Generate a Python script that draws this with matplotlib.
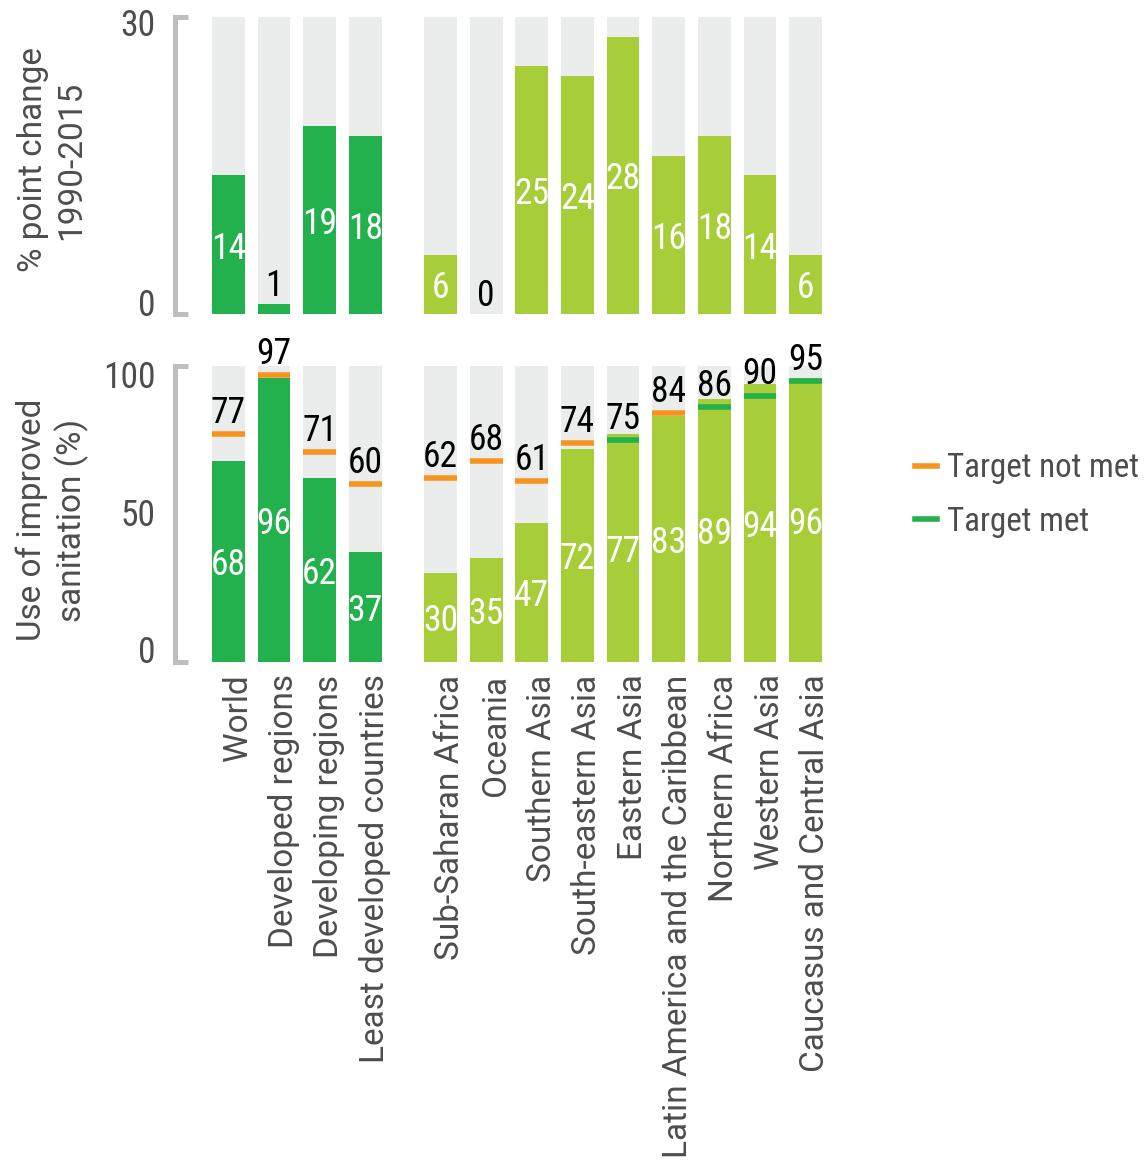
import numpy as np
import matplotlib
matplotlib.use('Agg')
import matplotlib.pyplot as plt
from matplotlib import font_manager
from matplotlib.font_manager import FontProperties
from matplotlib.lines import Line2D
from matplotlib.textpath import TextPath
from matplotlib.transforms import ScaledTranslation

regions = ['World', 'Developed regions', 'Developing regions', 'Least developed countries',
           'Sub-Saharan Africa', 'Oceania', 'Southern Asia', 'South-eastern Asia',
           'Eastern Asia', 'Latin America and the Caribbean', 'Northern Africa',
           'Western Asia', 'Caucasus and Central Asia']
is_aggregate = [True, True, True, True, False, False, False, False, False, False, False, False, False]
change_1990_2015 = [14, 1, 19, 18, 6, 0, 25, 24, 28, 16, 18, 14, 6]
use_2015 = [68, 96, 62, 37, 30, 35, 47, 72, 77, 83, 89, 94, 96]
mdg_target = [77, 97, 71, 60, 62, 68, 61, 74, 75, 84, 86, 90, 95]
legend_labels = ['Target not met', 'Target met']

DARK = '#22B14C'
LIGHT = '#A7CE39'
BACK = '#EBEDED'
ORANGE = '#F7941D'
BRACKET = '#BCBEC0'
TXT = '#4D4D4D'


def narrow_font():
    # look for the narrowest regular sans face that is installed
    best, best_rank = None, 99
    for f in font_manager.fontManager.ttflist:
        if f.style != 'normal':
            continue
        w = f.weight if isinstance(f.weight, int) else {'normal': 400, 'regular': 400, 'book': 400}.get(str(f.weight).lower(), 0)
        if w != 400:
            continue
        nm, st, fn = f.name.lower(), str(f.stretch).lower(), f.fname.lower()
        if 'roboto condensed' in nm:
            rank = 0
        elif 'extra' in st or 'extracondensed' in fn:
            rank = 1
        elif 'semi' in st or 'semicondensed' in fn:
            rank = 5
        elif 'condensed' in st or 'condensed' in fn:
            rank = 2 if 'dejavu' not in nm else 4
        elif 'narrow' in nm:
            rank = 3
        else:
            continue
        if rank < best_rank:
            best, best_rank = f.fname, rank
    if best is None:
        return FontProperties(family='DejaVu Sans', stretch='condensed')
    return FontProperties(fname=best)


def text_ext(fp, s):
    return TextPath((0, 0), s, size=1, prop=fp).get_extents()


num_fp = narrow_font()
ext88 = text_ext(num_fp, '88')
nsize = min(31 * 0.72 / ext88.width, 28 * 0.72 / ext88.height)
num_fp.set_size(nsize)
leg_fp = num_fp.copy()
leg_fp.set_size(190 * 0.72 / text_ext(leg_fp, legend_labels[0]).width)
names = {f.name for f in font_manager.fontManager.ttflist}
WORD = 'Roboto' if 'Roboto' in names else 'DejaVu Sans'

# group gap between aggregates and regions
x = np.array([i if agg else i + 0.65 for i, agg in enumerate(is_aggregate)])
colors = [DARK if agg else LIGHT for agg in is_aggregate]
W = 0.72

W_PX, H_PX = 1148, 1164
fig = plt.figure(figsize=(W_PX / 100, H_PX / 100), dpi=100)
ax_top = fig.add_axes([175 / W_PX, 1 - 314 / H_PX, 647 / W_PX, 297 / H_PX])
ax_bot = fig.add_axes([175 / W_PX, 1 - 662 / H_PX, 647 / W_PX, 296 / H_PX])


def style(ax, ymax, ticks, nudges):
    ax.set_xlim(-1.17, 13.01)
    ax.set_ylim(0, ymax)
    for s in ['top', 'right', 'bottom']:
        ax.spines[s].set_visible(False)
    ax.spines['left'].set_color(BRACKET)
    ax.spines['left'].set_linewidth(3.6)
    ax.set_yticks(ticks)
    ax.set_yticklabels([str(t) for t in ticks], color=TXT, fontproperties=num_fp)
    ax.tick_params(axis='y', direction='in', length=9, width=3.6, color=BRACKET, pad=14)
    ax.tick_params(axis='x', length=0)
    # end labels sit a little inside the bracket
    for lab, dy in zip(ax.get_yticklabels(), nudges):
        lab.set_transform(lab.get_transform() + ScaledTranslation(0, dy / 100, fig.dpi_scale_trans))


# top panel: change in percentage points
style(ax_top, 30, [0, 30], [12, -5])
ax_top.set_xticks([])
ax_top.bar(x, [30] * len(x), width=W, color=BACK, zorder=1)
ax_top.bar(x, change_1990_2015, width=W, color=colors, zorder=2)
for xi, v in zip(x, change_1990_2015):
    if v >= 3:
        ax_top.annotate(str(v), (xi, v / 2), xytext=(0, -10), textcoords='offset points',
                        ha='center', va='baseline', color='white', fontproperties=num_fp)
    else:
        ax_top.annotate(str(v), (xi, v), xytext=(0, 6), textcoords='offset points',
                        ha='center', va='baseline', color='black', fontproperties=num_fp)

# bottom panel: coverage 2015 with target marks
style(ax_bot, 100, [0, 50, 100], [13, 2, -8])
ax_bot.yaxis.get_major_ticks()[1].tick1line.set_visible(False)
ax_bot.bar(x, [100] * len(x), width=W, color=BACK, zorder=1)
ax_bot.bar(x, use_2015, width=W, color=colors, zorder=2)
met = [u >= t for u, t in zip(use_2015, mdg_target)]
ax_bot.hlines(mdg_target, x - W / 2, x + W / 2, colors=[DARK if m else ORANGE for m in met],
              linewidth=4, zorder=3)
for xi, v, t in zip(x, use_2015, mdg_target):
    ax_bot.annotate(str(v), (xi, v / 2), xytext=(0, -10), textcoords='offset points',
                    ha='center', va='baseline', color='white', fontproperties=num_fp)
    ax_bot.annotate(str(t), (xi, t), xytext=(0, 8), textcoords='offset points',
                    ha='center', va='baseline', color='black', fontproperties=num_fp)

ax_bot.set_xticks(x)
ax_bot.set_xticklabels(regions, rotation=90, fontsize=24, color=TXT, family=WORD)
ax_bot.tick_params(axis='x', pad=9)
shift = ScaledTranslation(7 / 72, 0, fig.dpi_scale_trans)
for lab in ax_bot.get_xticklabels():
    lab.set_transform(lab.get_transform() + shift)

fig.text(52 / W_PX, 1 - 160 / H_PX, '% point change\n1990-2015', rotation=90, ha='center',
         va='center', multialignment='center', fontsize=24, color=TXT, family=WORD,
         linespacing=1.25)
fig.text(52 / W_PX, 1 - 520 / H_PX, 'Use of improved\nsanitation (%)', rotation=90, ha='center',
         va='center', multialignment='center', fontsize=24, color=TXT, family=WORD,
         linespacing=1.25)

lf_px = leg_fp.get_size_in_points() * 100 / 72
handles = [Line2D([], [], color=ORANGE, lw=4), Line2D([], [], color=DARK, lw=4)]
fig.legend(handles, legend_labels, loc='center left',
           bbox_to_anchor=(915 / W_PX, 1 - 495 / H_PX), frameon=False,
           borderpad=0, borderaxespad=0,
           handlelength=22 / lf_px, handletextpad=10 / lf_px,
           labelspacing=max(0.1, (55 - 1.02 * lf_px) / lf_px),
           labelcolor=TXT, prop=leg_fp)

fig.savefig('out.png', dpi=100, facecolor='white')
